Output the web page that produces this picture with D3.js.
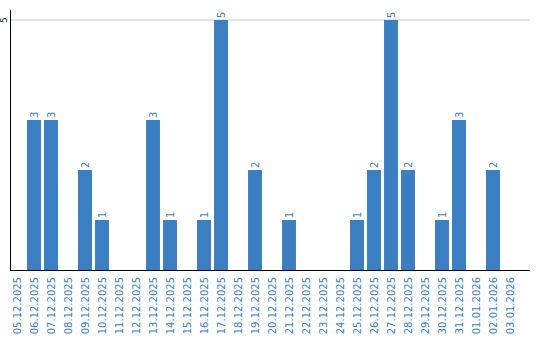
<!DOCTYPE html>
<html>
<head>
<meta charset="utf-8">
<script src="https://cdn.jsdelivr.net/npm/d3@7"></script>
<style>
  body { margin: 0; background: #fff; }
  svg text { font-family: "DejaVu Sans", sans-serif; }
</style>
</head>
<body>
<div class="plot-container"></div>
<script>
const dates = ["05.12.2025", "06.12.2025", "07.12.2025", "08.12.2025", "09.12.2025", "10.12.2025",
  "11.12.2025", "12.12.2025", "13.12.2025", "14.12.2025", "15.12.2025", "16.12.2025", "17.12.2025",
  "18.12.2025", "19.12.2025", "20.12.2025", "21.12.2025", "22.12.2025", "23.12.2025", "24.12.2025",
  "25.12.2025", "26.12.2025", "27.12.2025", "28.12.2025", "29.12.2025", "30.12.2025", "31.12.2025",
  "01.01.2026", "02.01.2026", "03.01.2026"];
const counts = [0, 3, 3, 0, 2, 1, 0, 0, 3, 1, 0, 1, 5, 0, 2, 0, 1, 0, 0, 0, 1, 2, 5, 2, 0, 1, 3, 0, 2, 0];
const yTicks = [5];

const width = 540, height = 340;
const blue = "#3b7ec2";

const svg = d3.select("div.plot-container")
  .append("svg")
  .attr("width", width)
  .attr("height", height);

const x = d3.scaleBand()
  .domain(dates)
  .range([8.5, 518.5])
  .paddingInner(0.18)
  .paddingOuter(0.09);

const y = d3.scaleLinear()
  .domain([0, 5])
  .range([270, 20]);

// gridline + y tick
svg.selectAll("line.grid")
  .data(yTicks)
  .join("line")
  .attr("class", "grid")
  .attr("x1", 11).attr("x2", 530)
  .attr("y1", d => y(d)).attr("y2", d => y(d))
  .attr("stroke", "#c8c8c8")
  .attr("stroke-width", 1);

svg.selectAll("text.ytick")
  .data(yTicks)
  .join("text")
  .attr("class", "ytick")
  .attr("transform", d => `translate(7, ${y(d)}) rotate(-90)`)
  .attr("text-anchor", "middle")
  .attr("font-size", 8)
  .attr("fill", "#000")
  .text(d => d);

// bars
const data = dates.map((d, i) => ({ date: d, value: counts[i] }));

svg.selectAll("rect.bar")
  .data(data.filter(d => d.value > 0))
  .join("rect")
  .attr("class", "bar")
  .attr("x", d => x(d.date))
  .attr("y", d => y(d.value))
  .attr("width", x.bandwidth())
  .attr("height", d => y(0) - y(d.value))
  .attr("fill", blue);

// value labels
svg.selectAll("text.val")
  .data(data.filter(d => d.value > 0))
  .join("text")
  .attr("class", "val")
  .attr("transform", d => `translate(${x(d.date) + x.bandwidth() / 2 + 3.5}, ${y(d.value) - 2}) rotate(-90)`)
  .attr("font-size", 10)
  .attr("fill", blue)
  .text(d => d.value);

// axes lines
svg.append("line")
  .attr("x1", 10.5).attr("x2", 10.5)
  .attr("y1", 10).attr("y2", 270.5)
  .attr("stroke", "#000");
svg.append("line")
  .attr("x1", 10).attr("x2", 530)
  .attr("y1", 270.5).attr("y2", 270.5)
  .attr("stroke", "#000");

// x labels
svg.selectAll("text.xlab")
  .data(dates)
  .join("text")
  .attr("class", "xlab")
  .attr("transform", d => `translate(${x(d) + x.bandwidth() / 2 + 3.5}, 277) rotate(-90)`)
  .attr("text-anchor", "end")
  .attr("font-size", 10)
  .attr("fill", blue)
  .text(d => d);
</script>
</body>
</html>
